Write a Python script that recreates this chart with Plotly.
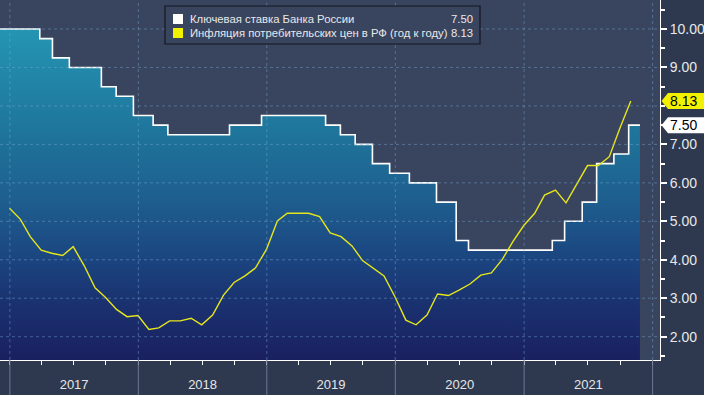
import pandas as pd
import plotly.graph_objects as go

# ---- data ----
RATE_DATES = ["2016-12-01", "2017-03-27", "2017-05-02", "2017-06-19", "2017-09-18",
              "2017-10-30", "2017-12-18", "2018-02-12", "2018-03-26", "2018-09-17",
              "2018-12-17", "2019-06-17", "2019-07-29", "2019-09-09", "2019-10-28",
              "2019-12-16", "2020-02-10", "2020-04-27", "2020-06-22", "2020-07-27",
              "2021-03-22", "2021-04-26", "2021-06-15", "2021-07-26", "2021-09-13",
              "2021-10-25", "2021-11-26"]
RATE_VALUES = [10.00, 9.75, 9.25, 9.00, 8.50, 8.25, 7.75, 7.50, 7.25, 7.50,
               7.75, 7.50, 7.25, 7.00, 6.50, 6.25, 6.00, 5.50, 4.50, 4.25,
               4.50, 5.00, 5.50, 6.50, 6.75, 7.50, 7.50]

CPI_START = "2016-12-31"
CPI_VALUES = [5.34,
              5.05, 4.60, 4.25, 4.17, 4.11, 4.34, 3.85, 3.27, 3.02, 2.71, 2.52, 2.55,
              2.19, 2.23, 2.41, 2.41, 2.48, 2.31, 2.56, 3.08, 3.41, 3.58, 3.79, 4.27,
              5.01, 5.21, 5.22, 5.21, 5.12, 4.70, 4.60, 4.36, 3.98, 3.78, 3.58, 3.04,
              2.43, 2.31, 2.56, 3.11, 3.07, 3.21, 3.37, 3.60, 3.66, 4.01, 4.47, 4.89,
              5.21, 5.68, 5.81, 5.48, 5.99, 6.45, 6.45, 6.68, 7.42, 8.13]
CPI_DATES = pd.date_range(CPI_START, periods=len(CPI_VALUES), freq="ME")

RATE_NAME = "Ключевая ставка Банка России"
CPI_NAME = "Инфляция потребительских цен в РФ (год к году)"
RATE_LAST = "7.50"
CPI_LAST = "8.13"

YEAR_STARTS = ["2017-01-01", "2018-01-01", "2019-01-01", "2020-01-01", "2021-01-01", "2022-01-01"]
Y_GRID = [2, 3, 4, 5, 6, 7, 8, 9, 10]
# 8.00 label sits under the yellow last-value tag in the original
Y_TICKS = [2, 3, 4, 5, 6, 7, 9, 10]
Y_TICK_LABELS = ["2.00", "3.00", "4.00", "5.00", "6.00", "7.00", "9.00", "10.00"]

# ---- style ----
FONT = "Liberation Sans"
PAPER_BG = "#2e3950"
PLOT_BG = "#39445f"
GRID_COL = "rgba(120,170,210,0.45)"
YLO, YHI = 1.394, 10.754

fig = go.Figure()
fig.add_trace(go.Scatter(
    x=RATE_DATES, y=RATE_VALUES, mode="lines", name=RATE_NAME,
    line=dict(color="white", width=1.6, shape="hv"),
    fill="tozeroy",
    fillgradient=dict(type="vertical", start=YLO, stop=YHI,
                      colorscale=[[0, "#1a2060"], [0.17, "#1a3371"], [0.28, "#1b4580"],
                                  [0.45, "#1e5f8f"], [0.6, "#1e7199"], [0.92, "#2495b2"],
                                  [1, "#289db8"]]),
    showlegend=False, hoverinfo="skip"))
fig.add_trace(go.Scatter(
    x=CPI_DATES, y=CPI_VALUES, mode="lines", name=CPI_NAME,
    line=dict(color="#e6e61a", width=1.4), showlegend=False))

shapes = []
for v in Y_GRID:
    shapes.append(dict(type="line", xref="paper", yref="y", x0=0, x1=1, y0=v, y1=v,
                       line=dict(color=GRID_COL, width=1, dash="dot"), layer="above"))
for d in YEAR_STARTS:
    shapes.append(dict(type="line", xref="x", yref="paper", x0=d, x1=d, y0=0, y1=1,
                       line=dict(color=GRID_COL, width=1, dash="dot"), layer="above"))
    shapes.append(dict(type="line", xref="x", yref="paper", x0=d, x1=d, y0=-0.1, y1=0,
                       line=dict(color="#6d7890", width=1), layer="above"))

# legend box
W, H = 660.0, 360.0
def px(x):
    return x / W
def py(y):
    return 1 - y / H
shapes.append(dict(type="rect", xref="paper", yref="paper",
                   x0=px(165), x1=px(480), y0=py(44), y1=py(6),
                   fillcolor=PLOT_BG, line=dict(color="#14171e", width=1.2), layer="above"))
shapes.append(dict(type="rect", xref="paper", yref="paper",
                   x0=px(173), x1=px(183), y0=py(24), y1=py(14),
                   fillcolor="white", line=dict(width=0), layer="above"))
shapes.append(dict(type="rect", xref="paper", yref="paper",
                   x0=px(173), x1=px(183), y0=py(38), y1=py(28),
                   fillcolor="#f2f200", line=dict(width=0), layer="above"))

LEG_FONT = dict(family=FONT, size=11.3, color="#e8e8e8")
annotations = [
    dict(xref="paper", yref="paper", x=px(188), y=py(19), text=RATE_NAME, showarrow=False,
         xanchor="left", yanchor="middle", font=LEG_FONT),
    dict(xref="paper", yref="paper", x=px(188), y=py(33), text=CPI_NAME, showarrow=False,
         xanchor="left", yanchor="middle", font=LEG_FONT),
    dict(xref="paper", yref="paper", x=px(475), y=py(19), text=RATE_LAST, showarrow=False,
         xanchor="right", yanchor="middle", font=LEG_FONT),
    dict(xref="paper", yref="paper", x=px(475), y=py(33), text=CPI_LAST, showarrow=False,
         xanchor="right", yanchor="middle", font=LEG_FONT),
]

# last-value tags on the right axis
half = 8 / (H / (YHI - YLO))
for val, txt, col in [(CPI_VALUES[-1], CPI_LAST, "#f2f200"), (RATE_VALUES[-1], RATE_LAST, "#ffffff")]:
    path = (f"M {px(661.5)},{val} L {px(668)},{val + half} L {px(706)},{val + half} "
            f"L {px(706)},{val - half} L {px(668)},{val - half} Z")
    shapes.append(dict(type="path", xref="paper", yref="y", path=path,
                       fillcolor=col, line=dict(width=0), layer="above"))
    annotations.append(dict(xref="paper", yref="y", x=px(668), y=val, text=txt, showarrow=False,
                            xanchor="left", yanchor="middle",
                            font=dict(family=FONT, size=14, color="#000000")))

fig.update_layout(
    width=704, height=395,
    margin=dict(l=0, r=44, t=0, b=35),
    paper_bgcolor=PAPER_BG, plot_bgcolor=PLOT_BG,
    font=dict(family=FONT, color="#e6e6e6"),
    shapes=shapes, annotations=annotations,
    showlegend=False,
    xaxis=dict(type="date", range=["2016-12-04", "2022-01-22"],
               showgrid=False, zeroline=False,
               showline=True, linecolor="white", linewidth=1,
               ticks="outside", ticklen=4, tickcolor="white",
               dtick="M12", tick0="2017-01-01", tickformat="%Y",
               ticklabelmode="period", ticklabelstandoff=8,
               tickfont=dict(family=FONT, size=13, color="#e6e6e6"),
               minor=dict(dtick="M3", ticks="outside", ticklen=4, tickcolor="white", showgrid=False)),
    yaxis=dict(side="right", range=[YLO, YHI],
               tickmode="array", tickvals=Y_TICKS, ticktext=Y_TICK_LABELS,
               showgrid=False, zeroline=False,
               showline=True, linecolor="white", linewidth=1,
               ticks="outside", ticklen=6, tickwidth=2, tickcolor="white",
               tickfont=dict(family=FONT, size=14, color="#e8e8e8"),
               minor=dict(tickmode="linear", tick0=0, dtick=0.5, ticks="outside", ticklen=4,
                          tickcolor="white", showgrid=False)),
)

fig.write_html("out.html", config={"displayModeBar": False},
               post_script="document.body.style.margin='0';document.body.style.overflow='hidden';")
